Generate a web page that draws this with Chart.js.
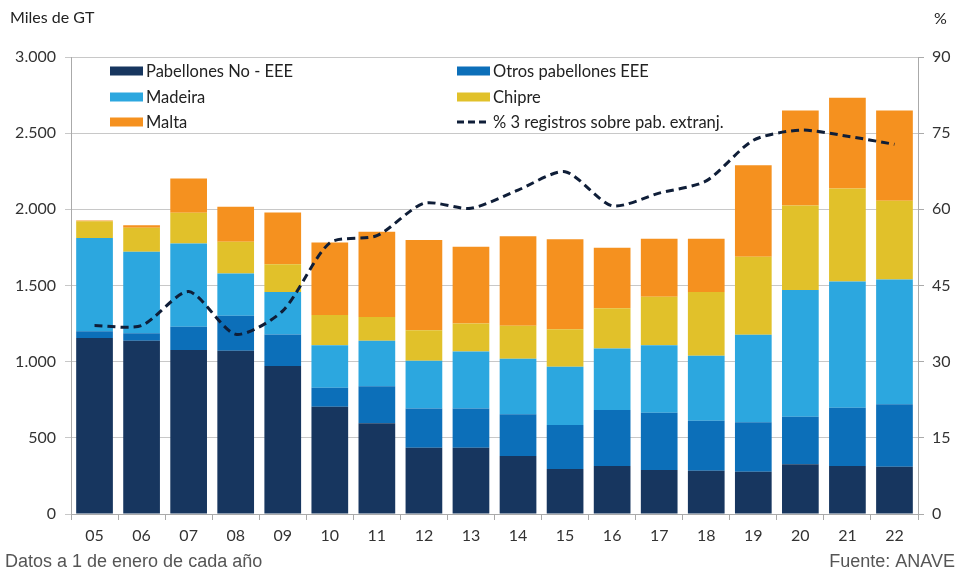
<!DOCTYPE html>
<html>
<head>
<meta charset="utf-8">
<script src="https://cdn.jsdelivr.net/npm/chart.js@4/dist/chart.umd.min.js"></script>
<style>
    html, body { margin: 0; padding: 0; background: #fff; }
    #wrap { width: 970px; height: 571px; position: relative; }
</style>
</head>
<body>
<div id="wrap"><canvas id="chart" width="970" height="571"></canvas></div>
<script>
// years (1 de enero)
const years = ['05','06','07','08','09','10','11','12','13','14','15','16','17','18','19','20','21','22'];

// miles de GT
const noEEE   = [1155,1137,1076,1072,971,704,595,435,435,381,295,315,289,284,278,326,315,310];
const otrosEEE= [45,50,153,230,208,125,243,258,258,273,289,367,376,328,324,313,383,410];
const madeira = [611,534,547,277,278,278,299,313,374,365,383,405,442,427,575,831,829,820];
const chipre  = [111,158,201,208,183,199,156,201,184,217,245,263,319,418,512,555,610,516];
const malta   = [5,17,226,230,340,477,560,591,503,588,592,398,381,350,601,624,595,593];

// % 3 registros sobre pabellones extranjeros
const pct3 = [37.1,37.1,43.8,35.4,40.0,53.4,54.8,61.2,60.2,63.8,67.4,60.7,63.2,65.6,73.6,75.6,74.4,72.8];

const leftTicks = [0,500,1000,1500,2000,2500,3000];
const rightTicks = [0,15,30,45,60,75,90];

const tickFont = { family: 'Lato', size: 16 };
const tickColor = '#333';

function fmtMiles(v) {
    return String(v).replace(/\B(?=(\d{3})+(?!\d))/g, '.');
}

function bar(label, data, color) {
    return {
        type: 'bar', label: label, data: data, backgroundColor: color,
        stack: 's', yAxisID: 'y', order: 1,
        barPercentage: 0.78, categoryPercentage: 1.0
    };
}

// legend drawn inside the plot, two columns like the original
const insideLegend = {
    id: 'insideLegend',
    afterDraw(chart) {
        const ctx = chart.ctx;
        const ds = chart.data.datasets;
        const cols = [110, 457];
        const rows = [71, 97, 122];
        ctx.save();
        ctx.font = '16.5px Lato';
        ctx.textBaseline = 'middle';
        ds.forEach((d, i) => {
            let x = cols[i % 2];
            let y = rows[Math.floor(i / 2)];
            if (d.type === 'line') {
                ctx.strokeStyle = d.borderColor;
                ctx.lineWidth = 3;
                ctx.setLineDash([7, 4]);
                ctx.beginPath();
                ctx.moveTo(x, y);
                ctx.lineTo(x + 33, y);
                ctx.stroke();
                ctx.setLineDash([]);
            } else {
                ctx.fillStyle = d.backgroundColor;
                ctx.fillRect(x, y - 4.5, 33, 9);
            }
            ctx.fillStyle = '#222';
            ctx.fillText(d.label, x + 36, y + 1);
        });

        // axis titles and notes
        ctx.font = '16px Lato';
        ctx.fillStyle = '#222';
        ctx.textAlign = 'left';
        ctx.fillText('Miles de GT', 10, 18);
        ctx.fillText('%', 934, 19);

        ctx.font = '18px "Liberation Sans"';
        ctx.fillStyle = '#555';
        ctx.fillText('Datos a 1 de enero de cada año', 5, 562);
        ctx.textAlign = 'right';
        ctx.fillText('Fuente: ANAVE', 955, 562);
        ctx.restore();
    }
};

new Chart(document.getElementById('chart'), {
    data: {
        labels: years,
        datasets: [
            bar('Pabellones No - EEE', noEEE, '#17365f'),
            bar('Otros pabellones EEE', otrosEEE, '#0c6fb9'),
            bar('Madeira', madeira, '#2ca7df'),
            bar('Chipre', chipre, '#e1c12a'),
            bar('Malta', malta, '#f5911f'),
            {
                type: 'line', label: '% 3 registros sobre pab. extranj.', data: pct3,
                borderColor: '#0f1e38', borderWidth: 3, borderDash: [8, 5],
                pointRadius: 0, tension: 0.25, fill: false,
                yAxisID: 'y1', order: 0
            }
        ]
    },
    options: {
        responsive: false,
        animation: false,
        layout: { padding: { left: 0, right: 0, top: 57, bottom: 0 } },
        plugins: { legend: { display: false }, tooltip: { enabled: false } },
        scales: {
            x: {
                stacked: true,
                grid: { display: true, drawOnChartArea: false, drawTicks: true, tickLength: 6, color: '#aaa' },
                border: { color: '#aaa' },
                ticks: { font: tickFont, color: tickColor, padding: 6 },
                afterFit(s) { s.height = 57; }
            },
            y: {
                stacked: true, position: 'left', min: 0, max: 3000,
                afterBuildTicks(s) { s.ticks = leftTicks.map(v => ({ value: v })); },
                grid: { color: '#c8c8c8', tickLength: 6 },
                border: { color: '#aaa' },
                ticks: { font: tickFont, color: tickColor, padding: 9, callback: v => fmtMiles(v) },
                afterFit(s) { s.width = 71; }
            },
            y1: {
                position: 'right', min: 0, max: 90,
                afterBuildTicks(s) { s.ticks = rightTicks.map(v => ({ value: v })); },
                grid: { drawOnChartArea: false, tickLength: 6, color: '#aaa' },
                border: { color: '#aaa' },
                ticks: { font: tickFont, color: tickColor, padding: 8 },
                afterFit(s) { s.width = 52; }
            }
        }
    },
    plugins: [insideLegend]
});
</script>
</body>
</html>
